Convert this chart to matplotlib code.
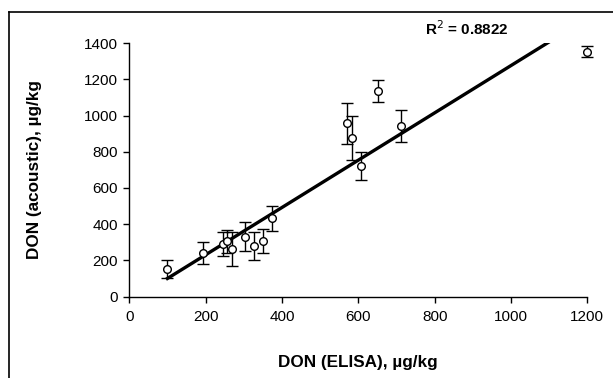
import matplotlib

matplotlib.use("Agg")
import matplotlib.pyplot as plt
import numpy as np
from matplotlib.lines import Line2D

plt.rcParams["font.family"] = ["Liberation Sans", "DejaVu Sans"]

elisa = [100, 192, 246, 255, 270, 303, 327, 351, 373, 571, 583, 607, 651, 711, 1198]
acoustic = [150, 240, 290, 305, 262, 331, 279, 307, 432, 957, 878, 720, 1136, 943, 1353]
acoustic_err = [50, 62, 65, 65, 95, 80, 78, 66, 68, 115, 122, 78, 60, 87, 30]

# linear trendline as shown (Excel style, from min x to max x)
trend_slope = 1.308
trend_intercept = -31.0
trend_x = [100, 1200]
r_squared = 0.8822

x_ticks = [0, 200, 400, 600, 800, 1000, 1200]
y_ticks = [0, 200, 400, 600, 800, 1000, 1200, 1400]

fig = plt.figure(figsize=(6.13, 3.78), dpi=100)
ax = fig.add_axes([0.2109, 0.2156, 0.7472, 0.6698])

tx = np.array(trend_x, dtype=float)
ax.plot(tx, trend_slope * tx + trend_intercept, color="black", linewidth=2.4, zorder=2)

ax.errorbar(
    elisa, acoustic, yerr=acoustic_err, fmt="o", color="black",
    ecolor="black", elinewidth=1.0, capsize=4, capthick=1.0,
    markersize=5.5, markerfacecolor="white", markeredgecolor="black",
    markeredgewidth=1.0, clip_on=False, zorder=3,
)

ax.set_xlim(0, 1200)
ax.set_ylim(0, 1400)
ax.set_xticks(x_ticks)
ax.set_yticks(y_ticks)
ax.tick_params(axis="both", direction="out", length=4, width=1, labelsize=11, colors="black")
ax.tick_params(axis="x", pad=6)
ax.tick_params(axis="y", pad=4)
for side in ("top", "right"):
    ax.spines[side].set_visible(False)
for side in ("left", "bottom"):
    ax.spines[side].set_color("black")
    ax.spines[side].set_linewidth(1.0)

ax.set_xlabel("DON (ELISA), µg/kg", fontsize=12.3, fontweight="bold")
ax.set_ylabel("DON (acoustic), µg/kg", fontsize=12.3, fontweight="bold")
ax.xaxis.set_label_coords(0.5, -0.231)
ax.yaxis.set_label_coords(-0.19, 0.5)

fig.text(0.761, 0.925, f"R$^{{2}}$ = {r_squared:.4f}", ha="center", va="center",
         fontsize=11, fontweight="bold")

# outer chart frame (left and top edges visible)
fig.add_artist(Line2D([9 / 613, 9 / 613], [0, 1 - 12 / 378], color="black", linewidth=1.2))
fig.add_artist(Line2D([9 / 613, 1], [1 - 12 / 378, 1 - 12 / 378], color="black", linewidth=1.2))

fig.savefig("out.png", dpi=100)
